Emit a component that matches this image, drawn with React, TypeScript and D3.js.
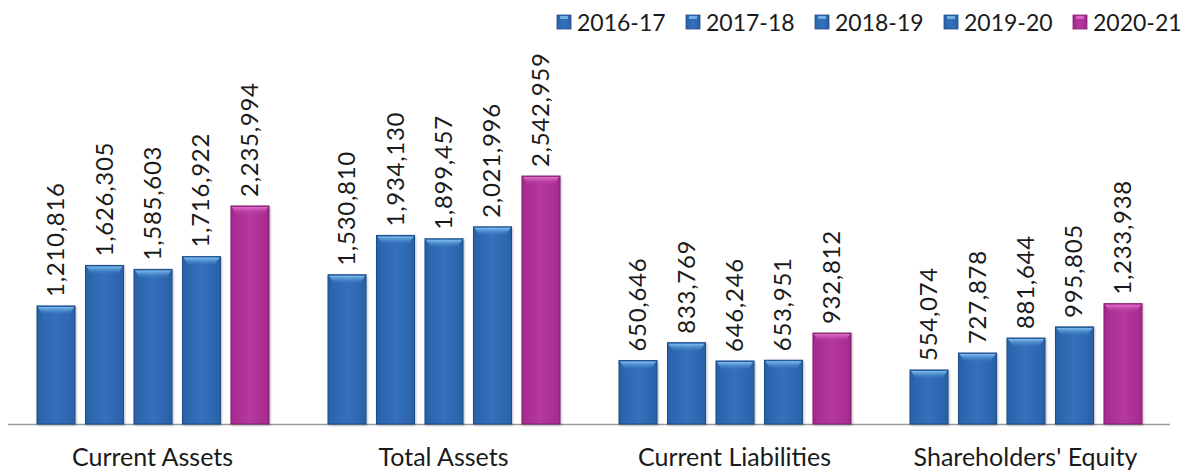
import React from "react";
import * as d3 from "d3";

const categories = ["Current Assets", "Total Assets", "Current Liabilities", "Shareholders' Equity"];
const seriesNames = ["2016-17", "2017-18", "2018-19", "2019-20", "2020-21"];
const values2016 = [1210816, 1530810, 650646, 554074];
const values2017 = [1626305, 1934130, 833769, 727878];
const values2018 = [1585603, 1899457, 646246, 881644];
const values2019 = [1716922, 2021996, 653951, 995805];
const values2020 = [2235994, 2542959, 932812, 1233938];
const seriesValues = [values2016, values2017, values2018, values2019, values2020];
const yMax = 3000000;

const W = 1190, H = 474;
const baseY = 424;
const font = "Lato, 'Open Sans', sans-serif";

export default function App() {
  const x0 = d3.scaleBand<string>().domain(categories).range([8, 1172]).paddingInner(0).paddingOuter(0);
  const x1 = d3.scaleBand<string>().domain(seriesNames).range([29, 261]).paddingInner(0.216).paddingOuter(0);
  const y = d3.scaleLinear().domain([0, yMax]).range([baseY, baseY - 292.5]);
  const fmt = d3.format(",");
  const isMag = (s: string) => s === "2020-21";
  const legendX = d3.scalePoint<string>().domain(seriesNames).range([557, 1073]);

  return (
    <svg width={W} height={H} style={{ position: "absolute", left: 0, top: 0, background: "#fff" }}>
      <defs>
        <linearGradient id="gBlue" x1="0" x2="1" y1="0" y2="0">
          <stop offset="0" stopColor="#2a62a8" />
          <stop offset="0.5" stopColor="#3470bd" />
          <stop offset="1" stopColor="#2a62a8" />
        </linearGradient>
        <linearGradient id="gMag" x1="0" x2="1" y1="0" y2="0">
          <stop offset="0" stopColor="#a52a8f" />
          <stop offset="0.5" stopColor="#b5389f" />
          <stop offset="1" stopColor="#a52a8f" />
        </linearGradient>
        <linearGradient id="hBlue" x1="0" x2="0" y1="0" y2="1">
          <stop offset="0" stopColor="#7fc0f0" />
          <stop offset="1" stopColor="#3d80c8" stopOpacity="0" />
        </linearGradient>
        <linearGradient id="hMag" x1="0" x2="0" y1="0" y2="1">
          <stop offset="0" stopColor="#e070c8" />
          <stop offset="1" stopColor="#b5389f" stopOpacity="0" />
        </linearGradient>
        <filter id="sh" x="-20%" y="-20%" width="140%" height="140%">
          <feDropShadow dx="1" dy="1" stdDeviation="1.2" floodColor="#000" floodOpacity="0.25" />
        </filter>
      </defs>
      <line x1={8} x2={1170} y1={baseY + 0.5} y2={baseY + 0.5} stroke="#9a9a9a" strokeWidth={1.5} />
      {categories.map((c, ci) => (
        <g key={c} transform={`translate(${x0(c)},0)`}>
          {seriesNames.map((s, si) => {
            const v = seriesValues[si][ci];
            const bx = x1(s)!;
            const bw = x1.bandwidth();
            const top = y(v);
            const h = baseY - top;
            const m = isMag(s);
            return (
              <g key={s}>
                <rect x={bx} y={top} width={bw} height={h} fill={m ? "url(#gMag)" : "url(#gBlue)"}
                  stroke={m ? "#7e1f6c" : "#1d4c86"} strokeWidth={1} filter="url(#sh)" />
                <path d={`M${bx + 1},${top + 1} L${bx + bw - 1},${top + 1} L${bx + bw - 6},${top + 9} L${bx + 6},${top + 9} Z`}
                  fill={m ? "url(#hMag)" : "url(#hBlue)"} />
                <text transform={`translate(${bx + bw / 2 + 8},${top - 9}) rotate(-90)`}
                  fontFamily={font} fontSize={24} fill="#1a1a1a" letterSpacing={0.7}>{fmt(v)}</text>
              </g>
            );
          })}
          <text x={x0.bandwidth() / 2 - 1} y={466} textAnchor="middle" fontFamily={font} fontSize={25} fill="#1a1a1a">{c}</text>
        </g>
      ))}
      {seriesNames.map((s) => (
        <g key={s} transform={`translate(${legendX(s)},0)`}>
          <rect x={0} y={15} width={14} height={14} fill={isMag(s) ? "url(#gMag)" : "url(#gBlue)"}
            stroke={isMag(s) ? "#7e1f6c" : "#1d4c86"} strokeWidth={0.8} />
          <rect x={3} y={16} width={8} height={3} fill={isMag(s) ? "#e070c8" : "#7fc0f0"} opacity={0.8} />
          <text x={20} y={31} fontFamily={font} fontSize={23} fill="#1a1a1a">{s}</text>
        </g>
      ))}
    </svg>
  );
}
